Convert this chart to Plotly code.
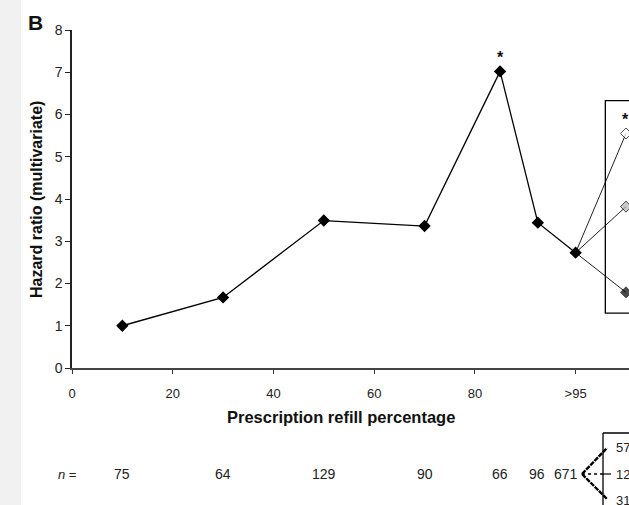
import plotly.graph_objects as go

# ---- data ----
refill_x = [10, 30, 50, 70, 85, 92.5, 100]
hazard = [1.0, 1.67, 3.49, 3.36, 7.02, 3.44, 2.73]
branch_x = [100, 110]
branch_open = [2.73, 5.55]
branch_gray = [2.73, 3.82]
branch_black = [2.73, 1.79]
x_tickvals = [0, 20, 40, 60, 80, 100]
x_ticktext = ["0", "20", "40", "60", "80", ">95"]
n_labels = ["75", "64", "129", "90", "66", "96", "671"]
n_sub = ["57", "12", "31"]
star_points = [(85, 7.02), (110, 5.55)]

FONT = "Liberation Sans, Arial, sans-serif"
W, H = 629, 505
L, R, T, B = 72, 0, 30, 137
PW, PH = W - L - R, H - T - B


def px(xp):
    return (xp - L) / PW


def py(yp):
    return (H - B - yp) / PH


fig = go.Figure()

# branch lines (thin)
for ys, fill in [(branch_open, "white"), (branch_gray, "#b4b4b4"), (branch_black, "black")]:
    fig.add_trace(go.Scatter(
        x=branch_x, y=ys, mode="lines+markers",
        line=dict(color="#222", width=1),
        marker=dict(symbol="diamond", size=[0, 8.5], color=fill,
                    line=dict(color="black", width=1)),
        showlegend=False, hoverinfo="skip"))

# main line
fig.add_trace(go.Scatter(
    x=refill_x, y=hazard, mode="lines+markers",
    line=dict(color="black", width=1.3),
    marker=dict(symbol="diamond", size=9.5, color="black"),
    showlegend=False))

shapes = []
# left gray strip
shapes.append(dict(type="rect", xref="paper", yref="paper",
                   x0=px(0), x1=px(21), y0=py(H), y1=py(0),
                   fillcolor="#f1f1f1", line=dict(width=0), layer="below"))
# box around branch (clipped to plot area)
shapes.append(dict(type="rect", xref="x", yref="y",
                   x0=105.9, x1=130, y0=1.30, y1=6.33,
                   line=dict(color="black", width=1.3)))
# small box near n-row
shapes.append(dict(type="line", xref="paper", yref="paper",
                   x0=px(603), x1=px(603), y0=py(433), y1=py(520),
                   line=dict(color="black", width=1.3)))
shapes.append(dict(type="line", xref="paper", yref="paper",
                   x0=px(603), x1=px(640), y0=py(433), y1=py(433),
                   line=dict(color="black", width=1.3)))
# fan lines
shapes.append(dict(type="line", xref="paper", yref="paper",
                   x0=px(582), y0=py(474), x1=px(607), y1=py(448),
                   line=dict(color="black", width=2.4, dash="5px,1px")))
shapes.append(dict(type="line", xref="paper", yref="paper",
                   x0=px(582), y0=py(474), x1=px(604), y1=py(474),
                   line=dict(color="black", width=1.6, dash="dot")))
shapes.append(dict(type="line", xref="paper", yref="paper",
                   x0=px(603), y0=py(474), x1=px(611), y1=py(474),
                   line=dict(color="black", width=1.2)))
shapes.append(dict(type="line", xref="paper", yref="paper",
                   x0=px(582), y0=py(474), x1=px(607), y1=py(499),
                   line=dict(color="black", width=2.4, dash="5px,1px")))

C = dict(xanchor="center", yanchor="middle", showarrow=False)
ann = []
ann.append(dict(text="<b>B</b>", xref="paper", yref="paper", x=px(35.5), y=py(22.5),
                font=dict(family=FONT, size=21, color="#111"), **C))
ann.append(dict(text="<b>Hazard ratio (multivariate)</b>", xref="paper", yref="paper",
                x=px(36), y=py(200), textangle=-90,
                font=dict(family=FONT, size=16, color="#111"), **C))
ann.append(dict(text="<b>Prescription refill percentage</b>", xref="paper", yref="paper",
                x=px(341), y=py(417),
                font=dict(family=FONT, size=16.5, color="#111"), **C))
ann.append(dict(text="<i>n</i> =", xref="paper", yref="paper", x=px(67), y=py(474),
                font=dict(family=FONT, size=13, color="#222"), **C))
for i, (xv, lab) in enumerate(zip(refill_x, n_labels)):
    ann.append(dict(text=lab, xref="x", yref="paper", x=xv, y=py(474),
                    xshift=(-10 if i == len(n_labels) - 1 else (-1 if i == 5 else 0)),
                    font=dict(family=FONT, size=14, color="#222"), **C))
for lab, yp in zip(n_sub, [448, 474, 500]):
    ann.append(dict(text=lab, xref="paper", yref="paper", x=px(614), y=py(yp),
                    xanchor="left", yanchor="middle", showarrow=False,
                    font=dict(family=FONT, size=13, color="#222")))
for sx, sy in star_points:
    ann.append(dict(text="<b>*</b>", xref="x", yref="y", x=sx, y=sy, yshift=14,
                    font=dict(family=FONT, size=16, color="#111"), **C))

fig.update_layout(
    width=W, height=H,
    margin=dict(l=L, r=R, t=T, b=B, pad=0),
    paper_bgcolor="white", plot_bgcolor="white",
    shapes=shapes, annotations=ann,
    xaxis=dict(range=[0, 110.6], tickvals=x_tickvals, ticktext=x_ticktext,
               showgrid=False, zeroline=False, showline=True,
               linecolor="#444", linewidth=2, ticks="outside", ticklen=4,
               tickcolor="#333", tickwidth=1.2, ticklabelstandoff=8,
               tickfont=dict(family=FONT, size=13, color="#222")),
    yaxis=dict(range=[0, 8], tickvals=list(range(0, 9)),
               showgrid=False, zeroline=False, showline=True,
               linecolor="#222", linewidth=1.5, ticks="outside", ticklen=5,
               tickcolor="#222", tickwidth=1.2,
               tickfont=dict(family=FONT, size=14, color="#222")),
)

fig.write_html("out.html", config={"displayModeBar": False},
               post_script="document.body.style.margin='0';document.body.style.overflow='hidden';")
